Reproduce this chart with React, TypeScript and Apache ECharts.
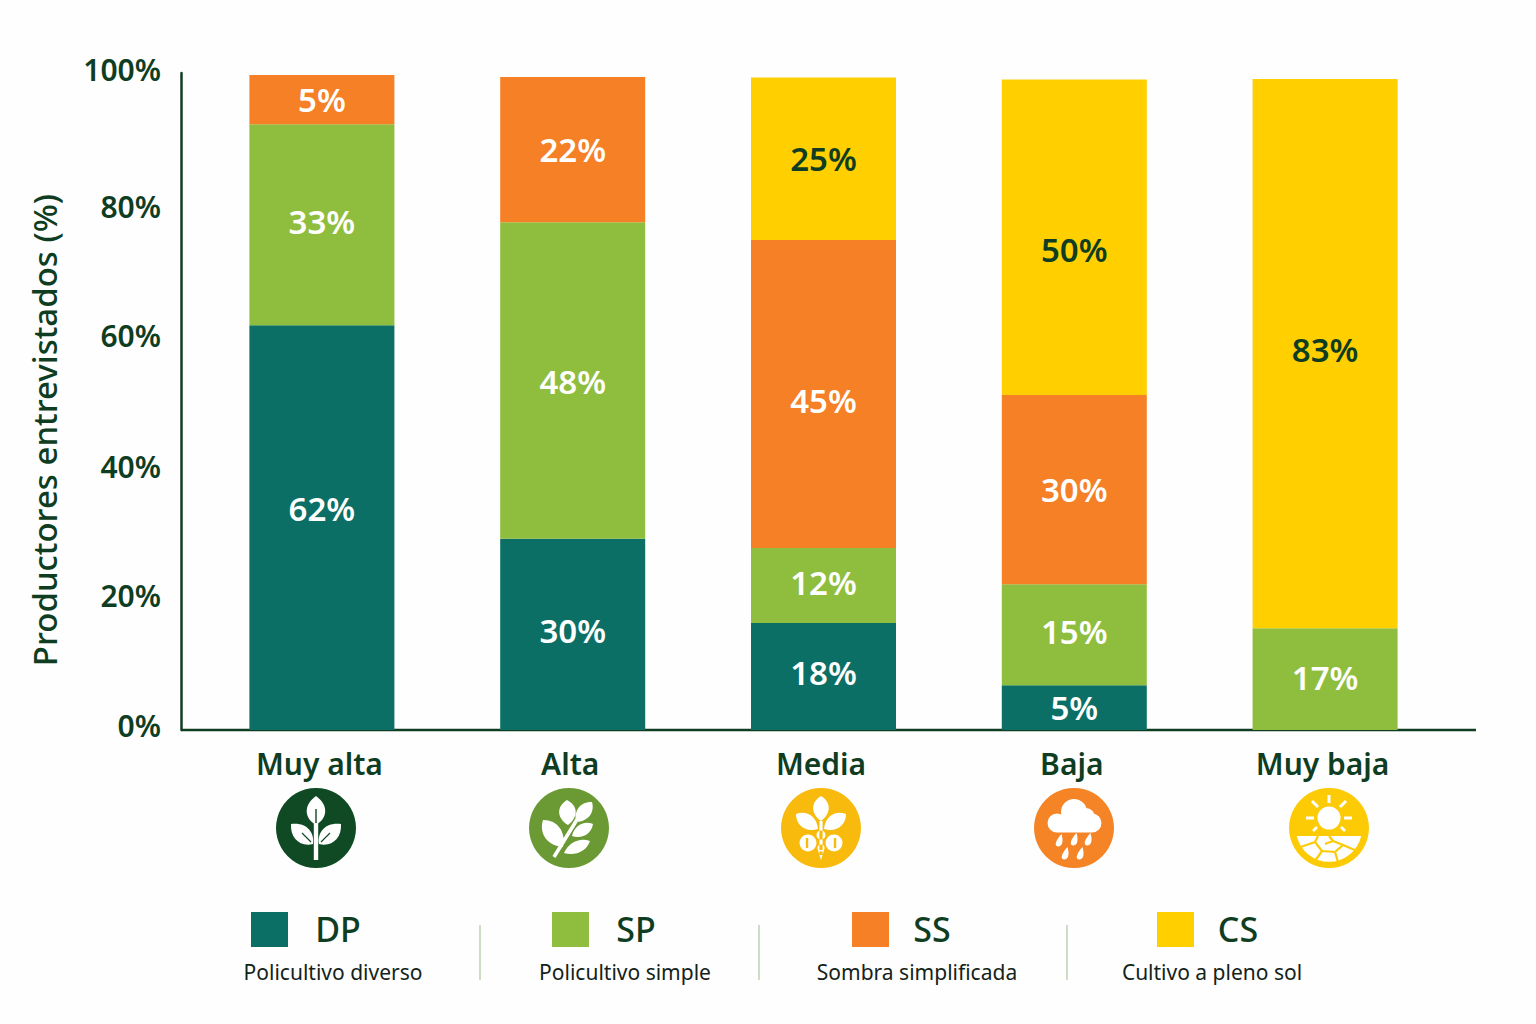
import React, { useEffect, useRef } from "react";
import * as echarts from "echarts";

const categories = ["Muy alta", "Alta", "Media", "Baja", "Muy baja"];
// Segment heights as drawn in the picture (%), and the printed labels.
const dpValues = [61.6, 29.1, 16.3, 6.8, 0];
const spValues = [30.6, 48.2, 11.4, 15.4, 15.5];
const ssValues = [7.5, 22.1, 46.9, 28.8, 0];
const csValues = [0, 0, 24.7, 48, 83.6];
const dpLabels = ["62%", "30%", "18%", "5%", ""];
const spLabels = ["33%", "48%", "12%", "15%", "17%"];
const ssLabels = ["5%", "22%", "45%", "30%", ""];
const csLabels = ["", "", "25%", "50%", "83%"];
const legendCodes = ["DP", "SP", "SS", "CS"];
const legendNames = ["Policultivo diverso", "Policultivo simple", "Sombra simplificada", "Cultivo a pleno sol"];

const DP = "#0b6f66";
const SP = "#8fbe3e";
const SS = "#f58025";
const CS = "#ffcf00";
const INK = "#0f3d22";
const FONT = "'Noto Sans', sans-serif";

// Layout only: vertical nudges of the printed labels, in pixels.
const dpShift = [-19, -4, -4, 0, 0];
const spShift = [-3, 1, -3, -3, -2];
const ssShift = [0, 0, 7, 0, 0];
const csShift = [0, 0, 0, 12, -4];

const f = (n: number) => n.toFixed(2);
const leaf = (x1: number, y1: number, x2: number, y2: number, w: number) => {
  const dx = x2 - x1, dy = y2 - y1, l = Math.hypot(dx, dy);
  const nx = (-dy / l) * w, ny = (dx / l) * w;
  const c = (t: number, s: number) => `${f(x1 + dx * t + nx * s)} ${f(y1 + dy * t + ny * s)}`;
  return `M${f(x1)} ${f(y1)}C${c(0.3, 1.3)} ${c(0.75, 1.3)} ${f(x2)} ${f(y2)}C${c(0.75, -1.3)} ${c(0.3, -1.3)} ${f(x1)} ${f(y1)}Z`;
};
const circ = (x: number, y: number, r: number) =>
  `M${x - r} ${y}A${r} ${r} 0 1 1 ${x + r} ${y}A${r} ${r} 0 1 1 ${x - r} ${y}Z`;
const bar = (x1: number, y1: number, x2: number, y2: number, w: number) => {
  const dx = x2 - x1, dy = y2 - y1, l = Math.hypot(dx, dy);
  const nx = (-dy / l) * w, ny = (dx / l) * w;
  return `M${f(x1 + nx)} ${f(y1 + ny)}L${f(x2 + nx)} ${f(y2 + ny)}L${f(x2 - nx)} ${f(y2 - ny)}L${f(x1 - nx)} ${f(y1 - ny)}Z`;
};
const drop = (x: number, y: number) =>
  `M${x + 2.5} ${y - 7}C${x + 4} ${y - 2} ${x + 4.5} ${y + 5} ${x - 0.5} ${y + 5.5}C${x - 5} ${y + 5.5} ${x - 4} ${y} ${x + 2.5} ${y - 7}Z`;

const iconPaths: Record<string, string> = {
  sprout:
    leaf(0, -33, 0, -4, 9.5) + leaf(-25, -5, -3, 15, 8.5) + leaf(25, -5, 3, 15, 8.5) + bar(0, -6, 0, 31, 2.2),
  sproutVein: bar(0, -20, 0, -6, 0.7) + bar(-14, 4, -5, 13, 0.6) + bar(14, 4, 5, 13, 0.6),
  branch:
    bar(-15, 28, 12, -16, 1.8) +
    leaf(-1, -4, -2, -29, 8.5) + leaf(7, -7, 23, -27, 7) + leaf(-6, 18, -26, -9, 9) +
    leaf(3, 7, 24, -5, 6) + leaf(-5, 24, 21, 12, 6),
  flower:
    leaf(0, -8, 0, -33, 8) + leaf(-3, 0, -25, -15, 7.5) + leaf(3, 0, 25, -15, 7.5) + bar(0, -8, 0, 26, 1.6) +
    circ(0, 6, 4.5) + circ(-13, 14, 8.5) + circ(13, 14, 8.5) + circ(0, 19, 3.5) +
    "M-3 21L3 21L0 31Z",
  flowerVein: bar(-14, 9, -14, 19, 1.2) + bar(14, 9, 14, 19, 1.2),
  rain:
    circ(0, -17, 13) + circ(-17, -6, 9.5) + circ(18, -6, 9.5) + circ(12, -12, 9) + "M-17 -8L18 -8L18 3.5L-17 3.5Z" +
    drop(-15, 12) + drop(0, 11) + drop(14, 11) + drop(-9, 25) + drop(6, 25),
  sun:
    circ(0, -11, 11.5) +
    bar(0, -34, 0, -26, 1.5) + bar(-23, -11, -15, -11, 1.5) + bar(15, -11, 23, -11, 1.5) +
    bar(-17, -28, -11, -22, 1.5) + bar(17, -28, 11, -22, 1.5) + bar(-16, 2, -12, -2, 1.4) + bar(16, 2, 12, -2, 1.4) +
    "M-32.2 7L32.2 7A33 33 0 0 1 -32.2 7Z",
  sunCrack:
    bar(-31, 19, -14, 13, 1.1) + bar(-14, 13, -11, 7, 1.1) + bar(-14, 13, -7, 22, 1.1) + bar(-7, 22, -14, 32, 1.1) +
    bar(-7, 22, 6, 23, 1.1) + bar(6, 23, 9, 33, 1.1) + bar(6, 23, 14, 16, 1.1) + bar(14, 16, 4, 12, 1.1) +
    bar(4, 12, 0, 7, 1.1) + bar(14, 16, 28, 22, 1.1) + bar(-4, 15, 4, 12, 1.1),
};
Object.keys(iconPaths).forEach((k) => {
  echarts.graphic.registerShape("icon_" + k, echarts.graphic.extendPath(iconPaths[k], {}) as any);
});

const icons = [
  { x: 316, bg: "#0f4a24", fg: "sprout", vein: "sproutVein" },
  { x: 569, bg: "#6b9a35", fg: "branch", vein: "" },
  { x: 821, bg: "#f8bb0d", fg: "flower", vein: "flowerVein" },
  { x: 1074, bg: "#f58427", fg: "rain", vein: "" },
  { x: 1329, bg: "#fdcb05", fg: "sun", vein: "sunCrack" },
];
const legendLayout = [
  { sx: 251, cx: 338, nx: 333, color: DP },
  { sx: 552, cx: 636, nx: 625, color: SP },
  { sx: 852, cx: 932, nx: 917, color: SS },
  { sx: 1157, cx: 1238, nx: 1212, color: CS },
];
const separators = [480, 759, 1067];

function series(name: string, values: number[], labels: string[], shift: number[], color: string, textColor: string) {
  return {
    name,
    type: "bar",
    stack: "t",
    barWidth: 145,
    data: values,
    itemStyle: { color },
    label: {
      show: true,
      position: "inside",
      color: textColor,
      fontFamily: FONT,
      fontWeight: 600,
      fontSize: 33,
      formatter: (p: any) => labels[p.dataIndex],
    },
    labelLayout: (p: any) => ({ dy: shift[p.dataIndex] }),
  };
}

const tickStyle = { color: INK, fontFamily: FONT, fontWeight: 600, fontSize: 30 };

export default function App() {
  const ref = useRef<HTMLDivElement>(null);
  useEffect(() => {
    document.body.style.margin = "0";
    const chart = echarts.init(ref.current!, null, { renderer: "svg" });
    const graphic: any[] = [
      { type: "line", shape: { x1: 181, y1: 730, x2: 1476, y2: 730 }, style: { stroke: INK, lineWidth: 2.5 } },
    ];
    icons.forEach((ic) => {
      graphic.push({ type: "circle", shape: { cx: ic.x, cy: 828, r: 40 }, style: { fill: ic.bg } });
      graphic.push({ type: "icon_" + ic.fg, x: ic.x, y: 829, style: { fill: "#ffffff" } });
      if (ic.vein) graphic.push({ type: "icon_" + ic.vein, x: ic.x, y: 829, style: { fill: ic.bg } });
    });
    legendLayout.forEach((l, i) => {
      graphic.push({ type: "rect", shape: { x: l.sx, y: 912, width: 37, height: 35 }, style: { fill: l.color } });
      graphic.push({
        type: "text", x: l.cx, y: 929,
        style: { text: legendCodes[i], fill: INK, font: `500 34px ${FONT}`, textAlign: "center", textVerticalAlign: "middle" },
      });
      graphic.push({
        type: "text", x: l.nx, y: 972,
        style: { text: legendNames[i], fill: "#14231a", font: `400 21px ${FONT}`, textAlign: "center", textVerticalAlign: "middle" },
      });
    });
    separators.forEach((x) => {
      graphic.push({ type: "line", shape: { x1: x, y1: 925, x2: x, y2: 980 }, style: { stroke: "#bcd2b4", lineWidth: 1.5 } });
    });
    chart.setOption({
      animation: false,
      backgroundColor: "#fefefe",
      grid: { left: 196.5, width: 1254, top: 73, bottom: 294, containLabel: false },
      xAxis: {
        type: "category",
        data: categories,
        axisLine: { show: false },
        axisTick: { show: false },
        axisLabel: { color: INK, fontFamily: FONT, fontWeight: 600, fontSize: 30, margin: 18, padding: [0, 5, 0, 0] },
      },
      yAxis: {
        type: "value",
        min: 0,
        max: 100,
        interval: 20,
        offset: 15.5,
        name: "Productores entrevistados (%)",
        nameLocation: "middle",
        nameGap: 120,
        nameTextStyle: { color: INK, fontFamily: FONT, fontWeight: 500, fontSize: 33, padding: [0, 57, 0, 0] },
        axisLine: { show: true, lineStyle: { color: INK, width: 2.5 } },
        axisTick: { show: false },
        splitLine: { show: false },
        axisLabel: {
          ...tickStyle,
          margin: 20,
          formatter: (v: number) => `{t${v}|${v}%}`,
          rich: {
            t100: { ...tickStyle, padding: [0, 0, 8, 0] },
            t80: { ...tickStyle, padding: [4, 0, 0, 0] },
            t60: { ...tickStyle },
            t40: { ...tickStyle, padding: [0, 0, 2, 0] },
            t20: { ...tickStyle, padding: [0, 0, 6, 0] },
            t0: { ...tickStyle, padding: [0, 0, 10, 0] },
          },
        },
      },
      series: [
        series("DP", dpValues, dpLabels, dpShift, DP, "#ffffff"),
        series("SP", spValues, spLabels, spShift, SP, "#ffffff"),
        series("SS", ssValues, ssLabels, ssShift, SS, "#ffffff"),
        series("CS", csValues, csLabels, csShift, CS, INK),
      ],
      graphic,
    });
    return () => chart.dispose();
  }, []);
  return <div ref={ref} style={{ position: "fixed", left: 0, top: 0, width: 1536, height: 1024 }} />;
}
